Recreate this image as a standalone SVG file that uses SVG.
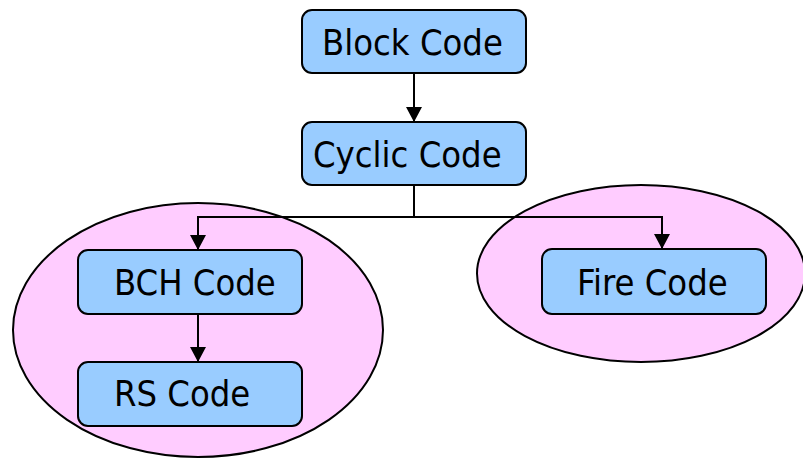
<svg xmlns="http://www.w3.org/2000/svg" width="803" height="458" viewBox="0 0 803 458">
  <defs>
    <marker id="arrow" viewBox="0 0 15 16" refX="15" refY="8" markerWidth="15" markerHeight="16" markerUnits="userSpaceOnUse" orient="auto">
      <path d="M0,0 L15,8 L0,16 Z" fill="#000"/>
    </marker>
  </defs>
  <style>
    .group { fill: #FFCCFF; stroke: #000; stroke-width: 2; }
    .box { fill: #99CCFF; stroke: #000; stroke-width: 2; }
    .label { font-family: "DejaVu Sans Condensed", "DejaVu Sans", sans-serif; font-stretch: condensed; font-size: 36px; fill: #000; }
    .link { fill: none; stroke: #000; stroke-width: 2; }
  </style>
  <rect width="803" height="458" fill="#fff"/>

  <!-- family groupings -->
  <ellipse id="bch-family" class="group" cx="198" cy="330" rx="185" ry="127"/>
  <ellipse id="fire-family" class="group" cx="641" cy="273.5" rx="164" ry="88.5"/>

  <!-- connectors -->
  <g id="connectors">
    <path class="link" d="M414,73 L414,122" marker-end="url(#arrow)"/>
    <path class="link" d="M414,185 L414,217 L198,217 L198,250" marker-end="url(#arrow)"/>
    <path class="link" d="M414,217 L662,217 L662,249" marker-end="url(#arrow)"/>
    <path class="link" d="M198,314 L198,362" marker-end="url(#arrow)"/>
  </g>

  <g id="block-code">
    <rect class="box" x="302" y="10" width="224" height="63" rx="10"/>
    <text class="label" x="322" y="55">Block Code</text>
  </g>
  <g id="cyclic-code">
    <rect class="box" x="302" y="122" width="224" height="63" rx="10"/>
    <text class="label" x="313" y="167">Cyclic Code</text>
  </g>
  <g id="bch-code">
    <rect class="box" x="78" y="250" width="224" height="64" rx="10"/>
    <text class="label" x="114" y="295">BCH Code</text>
  </g>
  <g id="rs-code">
    <rect class="box" x="78" y="362" width="224" height="64" rx="10"/>
    <text class="label" x="114" y="406">RS Code</text>
  </g>
  <g id="fire-code">
    <rect class="box" x="542" y="249" width="224" height="65" rx="10"/>
    <text class="label" x="577" y="295">Fire Code</text>
  </g>
</svg>
